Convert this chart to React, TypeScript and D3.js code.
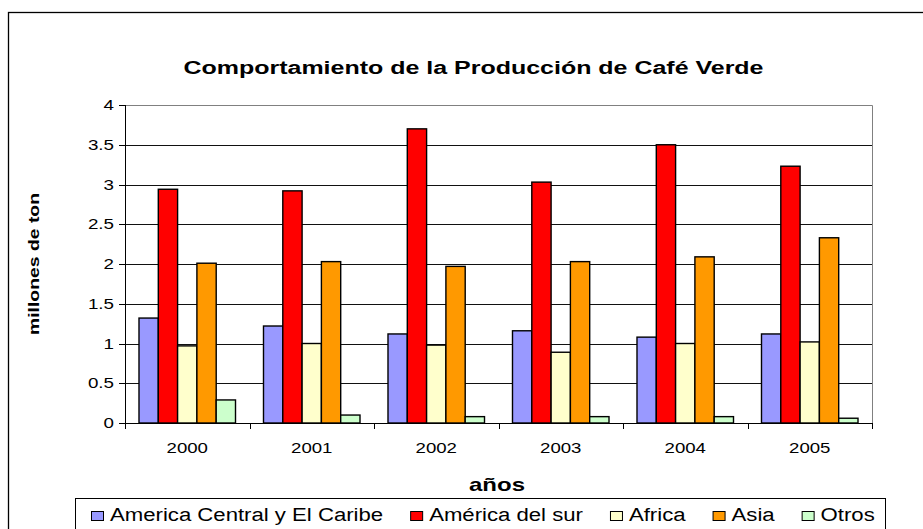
import React, { useEffect, useRef } from "react";
import * as d3 from "d3";

const years = ["2000", "2001", "2002", "2003", "2004", "2005"];
const seriesNames = [
  "America Central y El Caribe",
  "América del sur",
  "Africa",
  "Asia",
  "Otros",
];
const centralCaribe = [1.32, 1.22, 1.12, 1.16, 1.08, 1.12];
const surAmerica = [2.94, 2.92, 3.7, 3.03, 3.5, 3.23];
const africa = [0.97, 1.0, 0.98, 0.89, 1.0, 1.02];
const asia = [2.01, 2.03, 1.97, 2.03, 2.09, 2.33];
const otros = [0.29, 0.1, 0.08, 0.08, 0.08, 0.06];
const colors = ["#9999FF", "#FF0000", "#FFFFCC", "#FF9900", "#CCFFCC"];

const W = 923,
  H = 529;
const plot = { left: 125, right: 872, top: 105, bottom: 423 };
const font = "Arial, 'Liberation Sans', sans-serif";

// excel picture is a bit wider than the font, stretch text horizontally
function stretch(sel: any, k: number) {
  sel.each(function (this: any) {
    const len = this.getComputedTextLength();
    d3.select(this).attr("textLength", len * k).attr("lengthAdjust", "spacingAndGlyphs");
  });
}

export default function App() {
  const ref = useRef<SVGSVGElement>(null);

  useEffect(() => {
    const svg = d3.select(ref.current);
    svg.selectAll("*").remove();

    const values = [centralCaribe, surAmerica, africa, asia, otros];

    const x = d3.scaleBand().domain(years).range([plot.left, plot.right]).padding(0);
    const xs = d3
      .scaleBand()
      .domain(seriesNames)
      .range([0, x.bandwidth()])
      .paddingInner(0)
      .paddingOuter(0.725);
    const y = d3.scaleLinear().domain([0, 4]).range([plot.bottom, plot.top]);

    // outer border
    svg
      .append("rect")
      .attr("x", 8.5)
      .attr("y", 12.5)
      .attr("width", 940)
      .attr("height", 540)
      .attr("fill", "white")
      .attr("stroke", "#000")
      .attr("stroke-width", 1.3);

    // title
    svg
      .append("text")
      .attr("x", 473.5)
      .attr("y", 74)
      .attr("text-anchor", "middle")
      .attr("font-family", font)
      .attr("font-weight", "bold")
      .attr("font-size", 18)
      .attr("textLength", 580)
      .attr("lengthAdjust", "spacingAndGlyphs")
      .text("Comportamiento de la Producción de Café Verde");

    // plot frame (top & right gray)
    svg
      .append("path")
      .attr("d", `M${plot.left},${plot.top + 0.5}H${plot.right + 0.5}V${plot.bottom}`)
      .attr("fill", "none")
      .attr("stroke", "#808080")
      .attr("stroke-width", 1);

    // grid lines
    const ticks = y.ticks(8);
    svg
      .append("g")
      .selectAll("line")
      .data(ticks.filter((t) => t > 0 && t < 4))
      .enter()
      .append("line")
      .attr("x1", plot.left)
      .attr("x2", plot.right)
      .attr("y1", (d) => Math.round(y(d)) + 0.5)
      .attr("y2", (d) => Math.round(y(d)) + 0.5)
      .attr("stroke", "#111")
      .attr("stroke-width", 1);

    // bars
    const groups = svg
      .append("g")
      .selectAll("g")
      .data(years)
      .enter()
      .append("g")
      .attr("transform", (d) => `translate(${x(d)},0)`);

    groups
      .selectAll("rect")
      .data((d, i) => seriesNames.map((s, j) => ({ s, v: values[j][i], c: colors[j] })))
      .enter()
      .append("rect")
      .attr("x", (d) => xs(d.s)!)
      .attr("y", (d) => y(d.v))
      .attr("width", xs.bandwidth())
      .attr("height", (d) => y(0) - y(d.v))
      .attr("fill", (d) => d.c)
      .attr("stroke", "#000")
      .attr("stroke-width", 1.4);

    // y axis
    svg
      .append("line")
      .attr("x1", plot.left + 0.5)
      .attr("x2", plot.left + 0.5)
      .attr("y1", plot.top)
      .attr("y2", plot.bottom)
      .attr("stroke", "#000");
    const yt = svg.append("g").selectAll("g").data(ticks).enter().append("g");
    yt.append("line")
      .attr("x1", plot.left - 6)
      .attr("x2", plot.left)
      .attr("y1", (d) => Math.round(y(d)) + 0.5)
      .attr("y2", (d) => Math.round(y(d)) + 0.5)
      .attr("stroke", "#000");
    yt.append("text")
      .attr("x", plot.left - 11)
      .attr("y", (d) => y(d) + 5)
      .attr("text-anchor", "end")
      .attr("font-family", font)
      .attr("font-size", 15)
      .text((d) => d3.format("")(d))
      .call(stretch, 1.25);

    // x axis
    svg
      .append("line")
      .attr("x1", plot.left)
      .attr("x2", plot.right + 1)
      .attr("y1", plot.bottom + 0.5)
      .attr("y2", plot.bottom + 0.5)
      .attr("stroke", "#000");
    svg
      .append("g")
      .selectAll("line")
      .data(d3.range(years.length + 1))
      .enter()
      .append("line")
      .attr("x1", (i) => Math.round(plot.left + i * x.step()) + 0.5)
      .attr("x2", (i) => Math.round(plot.left + i * x.step()) + 0.5)
      .attr("y1", plot.bottom)
      .attr("y2", plot.bottom + 6)
      .attr("stroke", "#000");
    svg
      .append("g")
      .selectAll("text")
      .data(years)
      .enter()
      .append("text")
      .attr("x", (d) => x(d)! + x.bandwidth() / 2)
      .attr("y", 453)
      .attr("text-anchor", "middle")
      .attr("font-family", font)
      .attr("font-size", 15.5)
      .text((d) => d)
      .call(stretch, 1.2);

    // axis titles
    svg
      .append("text")
      .attr("x", 497)
      .attr("y", 491)
      .attr("text-anchor", "middle")
      .attr("font-family", font)
      .attr("font-weight", "bold")
      .attr("font-size", 19)
      .attr("textLength", 56)
      .attr("lengthAdjust", "spacingAndGlyphs")
      .text("años");
    svg
      .append("text")
      .attr("transform", `translate(39,${(plot.top + plot.bottom) / 2}) rotate(-90)`)
      .attr("text-anchor", "middle")
      .attr("font-family", font)
      .attr("font-weight", "bold")
      .attr("font-size", 14)
      .attr("textLength", 142)
      .attr("lengthAdjust", "spacingAndGlyphs")
      .text("millones de ton");

    // legend
    const lg = svg.append("g");
    lg.append("rect")
      .attr("x", 75.5)
      .attr("y", 498.5)
      .attr("width", 810)
      .attr("height", 60)
      .attr("fill", "white")
      .attr("stroke", "#000")
      .attr("stroke-width", 1);
    let lx = 91;
    seriesNames.forEach((s, j) => {
      lg.append("rect")
        .attr("x", lx + 0.5)
        .attr("y", 511.5)
        .attr("width", 12)
        .attr("height", 9)
        .attr("fill", colors[j])
        .attr("stroke", "#000")
        .attr("stroke-width", 1);
      const t = lg
        .append("text")
        .attr("x", lx + 19)
        .attr("y", 521)
        .attr("font-family", font)
        .attr("font-size", 18)
        .text(s);
      const len = (t.node() as SVGTextElement).getComputedTextLength() * 1.23;
      t.attr("textLength", len).attr("lengthAdjust", "spacingAndGlyphs");
      lx += 19 + len + 27;
    });
  }, []);

  return (
    <svg
      ref={ref}
      width={W}
      height={H}
      style={{ position: "absolute", left: 0, top: 0, background: "white" }}
    />
  );
}
